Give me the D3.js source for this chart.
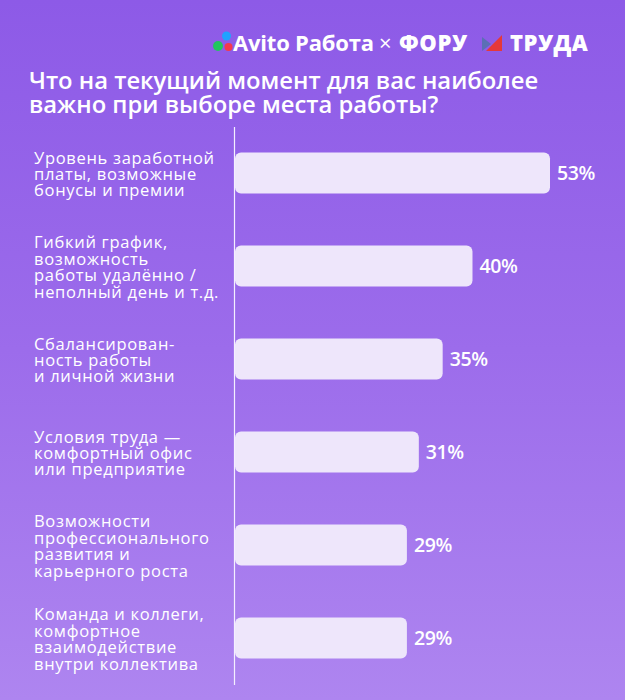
<!DOCTYPE html>
<html>
<head>
<meta charset="utf-8">
<script src="https://cdn.jsdelivr.net/npm/d3@7"></script>
<style>
  html, body { margin: 0; padding: 0; background: #9e70ec; }
  svg { display: block; font-family: "Open Sans", sans-serif; }
</style>
</head>
<body>
<div id="chart"></div>
<script>
const categories = [
  "Уровень заработной\nплаты, возможные\nбонусы и премии",
  "Гибкий график,\nвозможность\nработы удалённо /\nнеполный день и т.д.",
  "Сбалансирован-\nность работы\nи личной жизни",
  "Условия труда —\nкомфортный офис\nили предприятие",
  "Возможности\nпрофессионального\nразвития и\nкарьерного роста",
  "Команда и коллеги,\nкомфортное\nвзаимодействие\nвнутри коллектива",
];
const values = [53, 40, 35, 31, 29, 29];
const titleLines = ["Что на текущий момент для вас наиболее", "важно при выборе места работы?"];

const width = 625;
const height = 700;
const margin = { top: 126.5, right: 75, bottom: 15.5, left: 234 };
const barColor = "#eee6fb";

const svg = d3.select("#chart").append("svg").attr("width", width).attr("height", height).attr("viewBox", [0, 0, width, height]);

// фон
const grad = svg.append("defs").append("linearGradient")
  .attr("id", "bg").attr("x1", "0%").attr("x2", "0%").attr("y1", "0%").attr("y2", "100%");
grad.append("stop").attr("offset", "0%").style("stop-color", "#8d5ae7");
grad.append("stop").attr("offset", "50%").style("stop-color", "#9c6ceb");
grad.append("stop").attr("offset", "100%").style("stop-color", "#ae85f0");
svg.append("rect").attr("width", width).attr("height", height).attr("fill", "url(#bg)");

// шапка
const head = svg.append("g");
head.append("circle").attr("cx", 218).attr("cy", 46).attr("r", 5).attr("fill", "#22c55e");
head.append("circle").attr("cx", 226.5).attr("cy", 36).attr("r", 4.5).attr("fill", "#1fa2ff");
head.append("circle").attr("cx", 228.5).attr("cy", 47).attr("r", 4).attr("fill", "#f5384c");
head.append("text").attr("x", 233).attr("y", 51).attr("fill", "#fff")
  .attr("font-size", 22).attr("font-weight", 700).attr("letter-spacing", -0.2).text("Avito Работа");
head.append("text").attr("x", 379).attr("y", 51).attr("fill", "#fff")
  .attr("font-size", 22).attr("font-weight", 400).text("×");
head.append("text").attr("x", 399).attr("y", 51).attr("fill", "#fff")
  .attr("font-size", 22).attr("font-weight", 800).attr("letter-spacing", 0.6).text("ФОРУ");
head.append("path").attr("d", "M482,37L482,51L491,44Z").attr("fill", "#5b6fb5");
head.append("path").attr("d", "M502,35L502,51L486,51Z").attr("fill", "#e5383b");
head.append("text").attr("x", 510).attr("y", 51).attr("fill", "#fff")
  .attr("font-size", 22).attr("font-weight", 800).attr("letter-spacing", 0.5).text("ТРУДА");

// заголовок
svg.append("text").attr("x", 29).attr("y", 89).attr("fill", "#fff")
  .attr("font-size", 23.8).attr("font-weight", 600)
  .selectAll("tspan").data(titleLines).join("tspan")
  .attr("x", 29).attr("dy", (d, i) => (i ? 24 : 0)).text((d) => d);

const x = d3.scaleLinear().domain([0, 53]).range([margin.left, width - margin.right]);

const y = d3.scaleBand()
  .domain(categories)
  .range([margin.top, height - margin.bottom])
  .paddingInner(0.56)
  .paddingOuter(0.28);

const yAxis = (g) =>
  g.attr("transform", `translate(${margin.left},0)`)
    .call(d3.axisLeft(y).tickSize(0).tickSizeOuter(0))
    .call((g) => g.select(".domain").attr("stroke", "#f4efff").attr("stroke-width", 1.2))
    .call((g) => g.selectAll(".tick text").each(function (d) {
      const lines = d.split("\n");
      const t = d3.select(this)
        .attr("x", 34 - margin.left).attr("dy", null)
        .attr("text-anchor", "start").attr("fill", "#fff")
        .attr("font-size", 16.5).attr("letter-spacing", 0.7)
        .attr("font-family", "\"Open Sans\", sans-serif")
        .text(null);
      const lh = 16.4;
      const y0 = -((lines.length - 1) * lh) / 2 + 7;
      lines.forEach((l, i) => t.append("tspan").attr("x", 34 - margin.left).attr("y", y0 + i * lh).text(l));
    }));

svg.append("g").call(yAxis);

svg.append("g")
  .selectAll("rect")
  .data(values)
  .join("rect")
  .attr("x", x(0) + 1)
  .attr("y", (d, i) => y(categories[i]))
  .attr("width", (d) => x(d) - x(0) - 1)
  .attr("height", y.bandwidth())
  .attr("rx", 6)
  .attr("fill", barColor);

svg.append("g")
  .selectAll("text")
  .data(values)
  .join("text")
  .attr("x", (d) => x(d) + 7)
  .attr("y", (d, i) => y(categories[i]) + y.bandwidth() / 2)
  .attr("dy", "0.36em")
  .attr("fill", "#fff")
  .attr("font-size", 19.5)
  .attr("font-weight", 600)
  .attr("letter-spacing", -0.4)
  .text((d) => d + "%");
</script>
</body>
</html>
